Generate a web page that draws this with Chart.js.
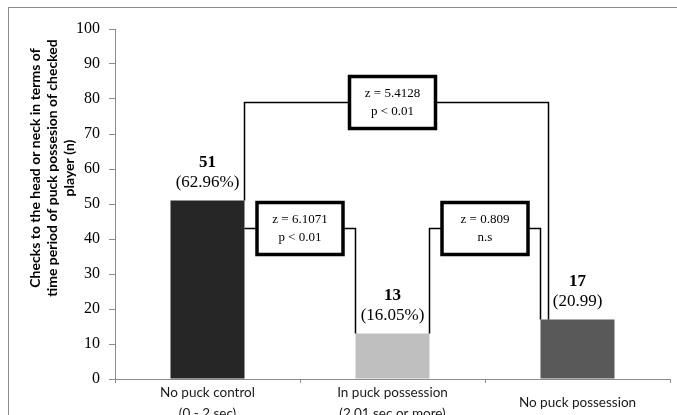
<!DOCTYPE html>
<html>
<head>
<meta charset="utf-8">
<script src="https://cdn.jsdelivr.net/npm/chart.js@4/dist/chart.umd.min.js"></script>
<style>
  html, body { margin: 0; padding: 0; background: #fff; overflow: hidden; }
  #frame { position: absolute; left: 8px; top: 7px; width: 720px; height: 440px;
           border: 1px solid #8c8c8c; box-sizing: border-box; }
  #wrap { position: absolute; left: 0; top: 0; width: 677px; height: 430px; }
</style>
</head>
<body>
<div id="frame"></div>
<div id="wrap"><canvas id="c" width="677" height="430"></canvas></div>
<script>
// Checks to the head or neck, by puck possession of the checked player
const categories = [
  ['No puck control', '(0 - 2 sec)'],
  ['In puck possession', '(2.01 sec or more)'],
  ['No puck possession']
];
const checks = [51, 13, 17];
const shareLabels = ['(62.96%)', '(16.05%)', '(20.99)'];
const barColors = ['#262626', '#bfbfbf', '#595959'];

const yMin = 0, yMax = 100, yStep = 10;
const yTitleLines = [
  'Checks to the head or neck in terms of',
  'time period of puck possesion of checked',
  'player (n)'
];

// pairwise comparisons between groups (bar indices, bracket level, test result)
const compFrom  = [0, 1, 0];
const compTo    = [1, 2, 2];
const compLevel = [43, 43, 79];
const compZ     = ['z = 6.1071', 'z = 0.809', 'z = 5.4128'];
const compP     = ['p < 0.01', 'n.s', 'p < 0.01'];

const SERIF = '"Liberation Serif", "Times New Roman", serif';
const SANS = 'Lato, "Open Sans", sans-serif';

const annotate = {
  id: 'annotate',
  afterDatasetsDraw(chart) {
    const ctx = chart.ctx;
    const ys = chart.scales.y;
    const bars = chart.getDatasetMeta(0).data;
    ctx.save();
    ctx.fillStyle = '#000';
    ctx.textAlign = 'center';
    ctx.textBaseline = 'middle';

    // counts and shares above each bar
    bars.forEach((bar, i) => {
      ctx.font = 'bold 17px ' + SERIF;
      ctx.fillText(String(checks[i]), bar.x, bar.y - 38);
      ctx.font = '17px ' + SERIF;
      ctx.fillText(shareLabels[i], bar.x, bar.y - 18);
    });

    // brackets with test result boxes
    const bw = 86, bh = 52;
    compFrom.forEach((a, k) => {
      const b = compTo[k];
      const A = bars[a], B = bars[b];
      const ly = ys.getPixelForValue(compLevel[k]);
      const inset = (b - a > 1) ? 8 : 0;   // wider bracket steps inside the narrower one
      const x1 = A.x + A.width / 2;
      const x2 = B.x - B.width / 2 + inset;
      const cx = (A.x + B.x) / 2;

      ctx.strokeStyle = '#000';
      ctx.lineWidth = 1.5;
      ctx.beginPath();
      ctx.moveTo(x1, Math.max(A.y, ly));
      ctx.lineTo(x1, ly);
      ctx.lineTo(cx - bw / 2, ly);
      ctx.moveTo(cx + bw / 2, ly);
      ctx.lineTo(x2, ly);
      ctx.lineTo(x2, Math.max(B.y, ly));
      ctx.stroke();

      ctx.fillStyle = '#fff';
      ctx.fillRect(cx - bw / 2, ly - bh / 2, bw, bh);
      ctx.lineWidth = 3.5;
      ctx.strokeRect(cx - bw / 2, ly - bh / 2, bw, bh);

      ctx.fillStyle = '#000';
      ctx.font = '13px ' + SERIF;
      ctx.fillText(compZ[k], cx, ly - 9);
      ctx.fillText(compP[k], cx, ly + 9);
    });
    ctx.restore();
  },
  afterDraw(chart) {
    // y axis title, three centred lines
    const ctx = chart.ctx;
    ctx.save();
    ctx.fillStyle = '#000';
    ctx.font = 'bold 14px ' + SANS;
    ctx.textAlign = 'center';
    ctx.textBaseline = 'middle';
    const xs = [35, 52, 69];
    yTitleLines.forEach((line, i) => {
      ctx.save();
      ctx.translate(xs[i], 168);
      ctx.rotate(-Math.PI / 2);
      ctx.fillText(line, 0, 0);
      ctx.restore();
    });
    ctx.restore();
  }
};

new Chart(document.getElementById('c'), {
  type: 'bar',
  data: {
    labels: categories,
    datasets: [{
      data: checks,
      backgroundColor: barColors,
      borderWidth: 0,
      barPercentage: 0.4,
      categoryPercentage: 1
    }]
  },
  options: {
    responsive: false,
    animation: false,
    layout: { padding: { left: 0, top: 29, right: 7, bottom: 0 } },
    plugins: { legend: { display: false }, tooltip: { enabled: false } },
    scales: {
      x: {
        grid: { drawOnChartArea: false, drawTicks: true, tickLength: 4, color: '#8c8c8c', offset: true },
        border: { color: '#8c8c8c', width: 1 },
        ticks: {
          color: '#1a1a1a',
          font: { family: SANS, size: 13.5, lineHeight: 1.5 },
          padding: 10,
          crossAlign: 'center',
          maxRotation: 0,
          autoSkip: false
        },
        afterFit(scale) { scale.height = 51; }
      },
      y: {
        min: yMin,
        max: yMax,
        grid: { drawOnChartArea: false, drawTicks: true, tickLength: 6, color: '#8c8c8c' },
        border: { color: '#8c8c8c', width: 1 },
        ticks: {
          stepSize: yStep,
          color: '#000',
          font: { family: SERIF, size: 16 },
          padding: 9
        },
        afterFit(scale) { scale.width = 115; }
      }
    }
  },
  plugins: [annotate]
});
</script>
</body>
</html>
